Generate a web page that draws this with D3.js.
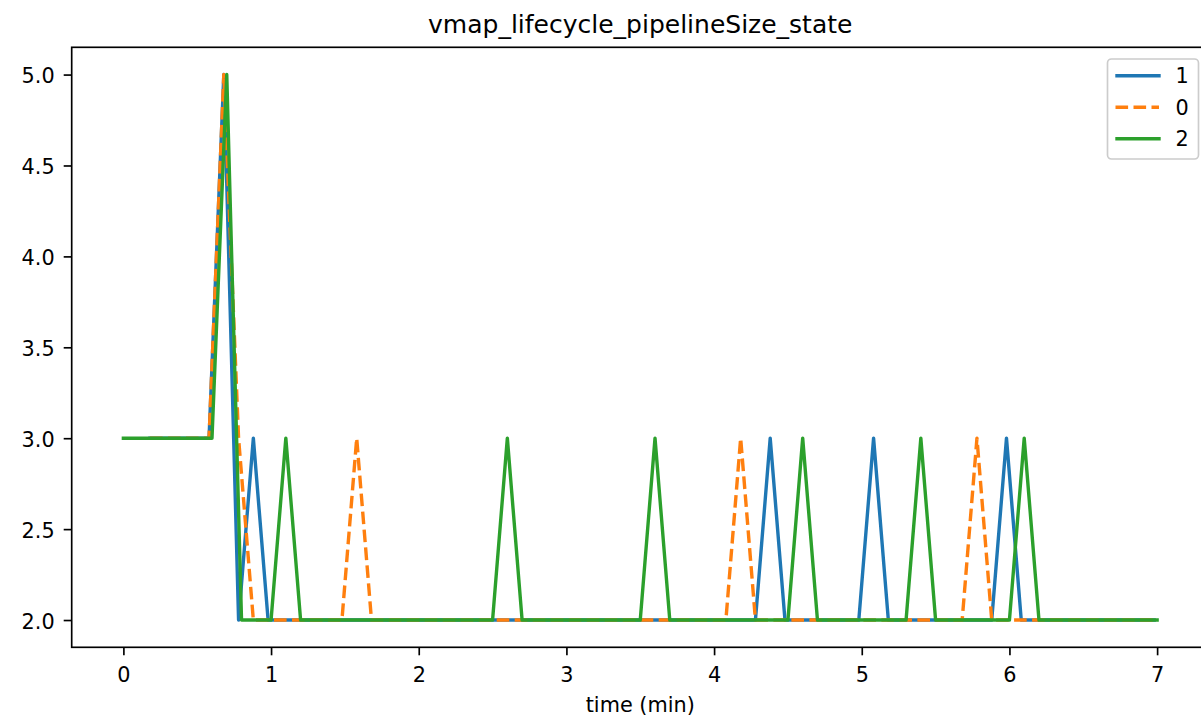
<!DOCTYPE html>
<html>
<head>
<meta charset="utf-8">
<script src="https://cdn.jsdelivr.net/npm/d3@7"></script>
<style>
  body { margin: 0; background: #fff; }
  text { font-family: "DejaVu Sans", sans-serif; fill: #000; }
</style>
</head>
<body>
<script>
// chart data (time in minutes, pipeline size)
const seriesNames = ["1", "0", "2"];

const time1 = [0.18, 0.58, 0.68, 0.78, 0.88, 0.98, 4.28, 4.38, 4.48, 4.98, 5.08, 5.18, 5.88, 5.98, 6.08, 6.98];
const value1 = [3, 3, 5, 2, 3, 2, 2, 3, 2, 2, 3, 2, 2, 3, 2, 2];

const time0 = [0.18, 0.58, 0.68, 0.78, 0.88, 1.48, 1.58, 1.68, 4.08, 4.18, 4.28, 5.68, 5.78, 5.88, 6.98];
const value0 = [3, 3, 5, 3, 2, 2, 3, 2, 2, 3, 2, 2, 3, 2, 2];

const time2 = [0, 0.6, 0.7, 0.8, 1.0, 1.1, 1.2, 2.5, 2.6, 2.7, 3.5, 3.6, 3.7, 4.5, 4.6, 4.7, 5.3, 5.4, 5.5, 6.0, 6.1, 6.2, 7.0];
const value2 = [3, 3, 5, 2, 2, 3, 2, 2, 3, 2, 2, 3, 2, 2, 3, 2, 2, 3, 2, 2, 3, 2, 2];

const xTicks = [0, 1, 2, 3, 4, 5, 6, 7];
const yTicks = [2.0, 2.5, 3.0, 3.5, 4.0, 4.5, 5.0];

const titleText = "vmap_lifecycle_pipelineSize_state";
const xLabelText = "time (min)";

// page geometry
const width = 1201,
  height = 721,
  plotLeft = 71.7, plotRight = 1208.8, // axes box (right edge falls off the page)
  plotTop = 47.3, plotBottom = 647.3;

const colors = ["#1f77b4", "#ff7f0e", "#2ca02c"];
const dashes = [null, "12.6,5.4", null];
const lineWidth = 3.4;

const series = seriesNames.map((name, i) => {
  const t = [time1, time0, time2][i];
  const v = [value1, value0, value2][i];
  return { name: name, points: t.map((d, j) => [d, v[j]]) };
});

// scales, with matplotlib's 5% margins
const allT = time1.concat(time0, time2);
const allV = value1.concat(value0, value2);
const [tMin, tMax] = d3.extent(allT);
const [vMin, vMax] = d3.extent(allV);
const tPad = (tMax - tMin) * 0.05, vPad = (vMax - vMin) * 0.05;

const xScale = d3.scaleLinear()
  .domain([tMin - tPad, tMax + tPad])
  .range([plotLeft, plotRight]);

const yScale = d3.scaleLinear()
  .domain([vMin - vPad, vMax + vPad])
  .range([plotBottom, plotTop]);

const svg = d3.select("body")
  .append("svg")
  .attr("width", width)
  .attr("height", height);

svg.append("rect")
  .attr("width", width)
  .attr("height", height)
  .attr("fill", "#fff");

svg.append("clipPath")
  .attr("id", "plotArea")
  .append("rect")
  .attr("x", plotLeft)
  .attr("y", plotTop)
  .attr("width", plotRight - plotLeft)
  .attr("height", plotBottom - plotTop);

// lines
const line = d3.line()
  .x(d => xScale(d[0]))
  .y(d => yScale(d[1]));

svg.append("g")
  .attr("clip-path", "url(#plotArea)")
  .selectAll("path")
  .data(series)
  .enter()
  .append("path")
  .attr("d", d => line(d.points))
  .attr("fill", "none")
  .attr("stroke", (d, i) => colors[i])
  .attr("stroke-width", lineWidth)
  .attr("stroke-linejoin", "round")
  .attr("stroke-linecap", (d, i) => dashes[i] ? "butt" : "square")
  .attr("stroke-dasharray", (d, i) => dashes[i]);

// axes
const xAxis = svg.append("g")
  .attr("transform", `translate(0,${plotBottom})`)
  .call(d3.axisBottom(xScale).tickValues(xTicks).tickFormat(d3.format("d")).tickSize(8).tickPadding(0));

const yAxis = svg.append("g")
  .attr("transform", `translate(${plotLeft},0)`)
  .call(d3.axisLeft(yScale).tickValues(yTicks).tickFormat(d3.format(".1f")).tickSize(8).tickPadding(0));

[xAxis, yAxis].forEach(a => {
  a.select(".domain").remove();
  a.selectAll(".tick line").attr("stroke", "#000").attr("stroke-width", 1.67);
  a.selectAll(".tick text")
    .attr("font-family", "DejaVu Sans")
    .attr("font-size", 20.8)
    .attr("fill", "#000");
});

xAxis.selectAll(".tick text")
  .attr("dy", null)
  .attr("y", 35);

yAxis.selectAll(".tick text")
  .attr("dy", null)
  .attr("x", -17)
  .attr("y", 8);

// spines
svg.append("rect")
  .attr("x", plotLeft)
  .attr("y", plotTop)
  .attr("width", plotRight - plotLeft)
  .attr("height", plotBottom - plotTop)
  .attr("fill", "none")
  .attr("stroke", "#000")
  .attr("stroke-width", 1.67);

// title and label
svg.append("text")
  .attr("x", (plotLeft + plotRight) / 2)
  .attr("y", 33)
  .attr("text-anchor", "middle")
  .attr("font-size", 25)
  .text(titleText);

svg.append("text")
  .attr("x", (plotLeft + plotRight) / 2)
  .attr("y", 712)
  .attr("text-anchor", "middle")
  .attr("font-size", 20.8)
  .text(xLabelText);

// legend
const legend = svg.append("g");

legend.append("rect")
  .attr("x", 1107.5)
  .attr("y", 59)
  .attr("width", 91)
  .attr("height", 100)
  .attr("rx", 4)
  .attr("fill", "#fff")
  .attr("fill-opacity", 0.8)
  .attr("stroke", "#cccccc")
  .attr("stroke-width", 1.67);

const rows = legend.selectAll("g.row")
  .data(series)
  .enter()
  .append("g")
  .attr("class", "row")
  .attr("transform", (d, i) => `translate(0,${75.7 + i * 31.5})`);

rows.append("line")
  .attr("x1", (d, i) => dashes[i] ? 1115.5 : 1117)
  .attr("x2", 1159)
  .attr("stroke", (d, i) => colors[i])
  .attr("stroke-width", lineWidth)
  .attr("stroke-linecap", (d, i) => dashes[i] ? "butt" : "square")
  .attr("stroke-dasharray", (d, i) => dashes[i]);

rows.append("text")
  .attr("x", 1175.5)
  .attr("y", 7.7)
  .attr("font-size", 20.8)
  .text(d => d.name);
</script>
</body>
</html>
